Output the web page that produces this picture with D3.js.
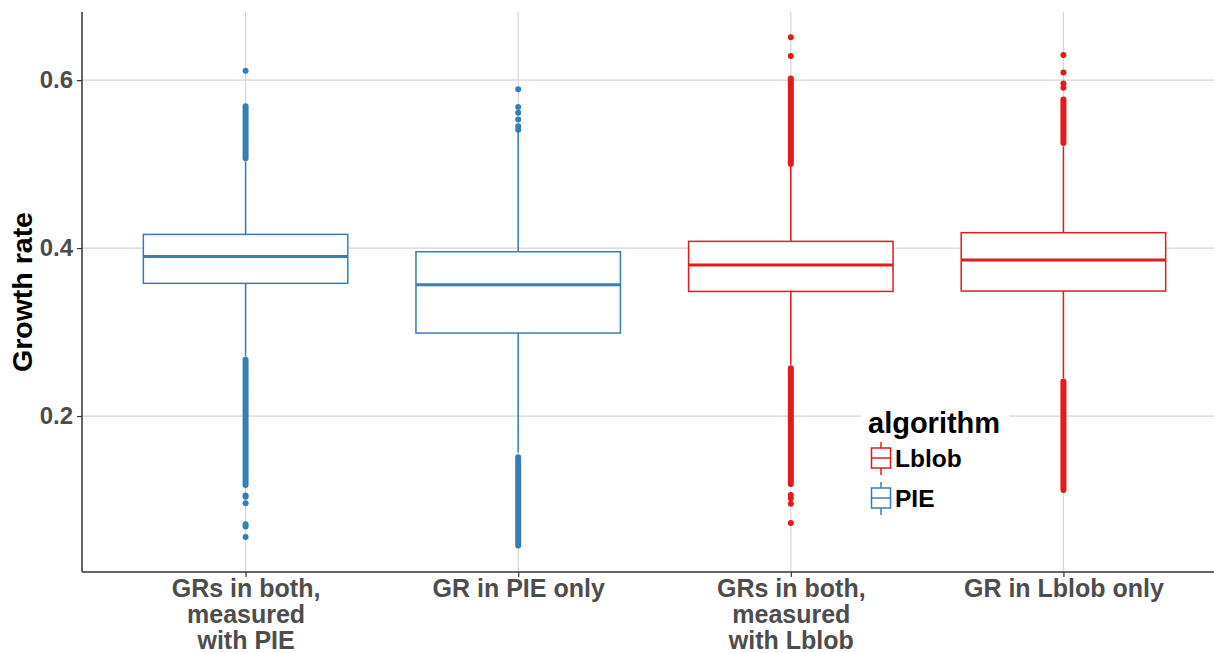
<!DOCTYPE html>
<html>
<head>
<meta charset="utf-8">
<script src="https://cdn.jsdelivr.net/npm/d3@7"></script>
<style>
  body { margin: 0; background: #fff; }
  svg { display: block; font-family: "Liberation Sans", Arial, sans-serif; }
</style>
</head>
<body>
<svg width="1214" height="653"></svg>
<script>
// categories on the x axis (lines of each label)
const categories = ["both_PIE", "PIE_only", "both_Lblob", "Lblob_only"];
const categoryLabels = [
  ["GRs in both,", "measured", "with PIE"],
  ["GR in PIE only"],
  ["GRs in both,", "measured", "with Lblob"],
  ["GR in Lblob only"]
];
const algorithm = ["PIE", "PIE", "Lblob", "Lblob"];

// box stats
const q1 = [0.358, 0.2988, 0.3484, 0.3488];
const median = [0.390, 0.3563, 0.3798, 0.3857];
const q3 = [0.4163, 0.3956, 0.408, 0.4183];
const whiskerLo = [0.271, 0.157, 0.261, 0.245];
const whiskerHi = [0.503, 0.540, 0.497, 0.521];

// dense outlier runs (too many dots to read one by one): [category, from, to]
const outlierRuns = [
  [0, 0.507, 0.569], [0, 0.118, 0.267],
  [1, 0.046, 0.151],
  [2, 0.500, 0.602], [2, 0.119, 0.257],
  [3, 0.525, 0.577], [3, 0.112, 0.241]
];
// single outlier points: [category, value]
const outlierPoints = [
  [0, 0.611], [0, 0.1054], [0, 0.1038], [0, 0.0963], [0, 0.0713], [0, 0.0685], [0, 0.0559],
  [1, 0.541], [1, 0.545], [1, 0.553], [1, 0.561], [1, 0.568], [1, 0.589],
  [2, 0.6286], [2, 0.651], [2, 0.106], [2, 0.102], [2, 0.0955], [2, 0.0725],
  [3, 0.591], [3, 0.596], [3, 0.609], [3, 0.630]
];

const yTicks = [0.2, 0.4, 0.6];
const legendKeys = ["Lblob", "PIE"];
const colors = { PIE: "#377eb8", Lblob: "#e41a1c" };

const svg = d3.select("svg");
const plotLeft = 82, plotTop = 12, plotBottom = 572, plotRight = 1227;

const x = d3.scalePoint().domain(categories).range([plotLeft, plotRight]).padding(0.6);
const y = d3.scaleLinear().domain([0.0143, 0.6811]).range([plotBottom, plotTop]);
const boxW = x.step() * 0.75;

// gridlines
const grid = svg.append("g");
grid.selectAll(".gy").data(yTicks).enter().append("line")
  .attr("x1", plotLeft).attr("x2", 1214)
  .attr("y1", d => y(d)).attr("y2", d => y(d))
  .attr("stroke", "#d6d6d6").attr("stroke-width", 1.2);
grid.selectAll(".gx").data(categories).enter().append("line")
  .attr("x1", d => x(d)).attr("x2", d => x(d))
  .attr("y1", plotTop).attr("y2", plotBottom)
  .attr("stroke", "#d6d6d6").attr("stroke-width", 1.2);

// boxes
const boxes = svg.append("g").selectAll("g").data(categories).enter().append("g");
boxes.each(function(c, i) {
  const g = d3.select(this);
  const col = colors[algorithm[i]];
  const cx = x(c);
  g.append("line").attr("x1", cx).attr("x2", cx)
    .attr("y1", y(q3[i])).attr("y2", y(whiskerHi[i]))
    .attr("stroke", col).attr("stroke-width", 1.5);
  g.append("line").attr("x1", cx).attr("x2", cx)
    .attr("y1", y(q1[i])).attr("y2", y(whiskerLo[i]))
    .attr("stroke", col).attr("stroke-width", 1.5);
  g.append("rect")
    .attr("x", cx - boxW / 2).attr("width", boxW)
    .attr("y", y(q3[i])).attr("height", y(q1[i]) - y(q3[i]))
    .attr("fill", "#fff").attr("stroke", col).attr("stroke-width", 1.5);
  g.append("line")
    .attr("x1", cx - boxW / 2).attr("x2", cx + boxW / 2)
    .attr("y1", y(median[i])).attr("y2", y(median[i]))
    .attr("stroke", col).attr("stroke-width", 3);
});

// outliers
svg.append("g").selectAll("line").data(outlierRuns).enter().append("line")
  .attr("x1", d => x(categories[d[0]])).attr("x2", d => x(categories[d[0]]))
  .attr("y1", d => y(d[1])).attr("y2", d => y(d[2]))
  .attr("stroke", d => colors[algorithm[d[0]]])
  .attr("stroke-width", 6).attr("stroke-linecap", "round");
svg.append("g").selectAll("circle").data(outlierPoints).enter().append("circle")
  .attr("cx", d => x(categories[d[0]])).attr("cy", d => y(d[1]))
  .attr("r", 3).attr("fill", d => colors[algorithm[d[0]]]);

// axes
const yAxis = svg.append("g").attr("transform", `translate(${plotLeft},0)`)
  .call(d3.axisLeft(y).tickValues(yTicks).tickSize(5).tickPadding(4).tickFormat(d3.format(".1f")));
const xAxis = svg.append("g").attr("transform", `translate(0,${plotBottom})`)
  .call(d3.axisBottom(x).tickSize(5).tickFormat(""));
[yAxis, xAxis].forEach(a => {
  a.select(".domain").attr("stroke", "#333").attr("stroke-width", 1.5);
  a.selectAll(".tick line").attr("stroke", "#333").attr("stroke-width", 1.2);
});
yAxis.select(".domain").attr("d", `M0,${plotTop}V${plotBottom}`);
xAxis.select(".domain").attr("d", `M${plotLeft},0H1214`);
yAxis.selectAll(".tick text")
  .attr("font-size", 24).attr("font-weight", "bold").attr("fill", "#4d4d4d")
  .attr("font-family", "Liberation Sans, Arial, sans-serif");

// x labels, multi-line
xAxis.selectAll(".tick").each(function(c, i) {
  const t = d3.select(this).append("text")
    .attr("text-anchor", "middle").attr("fill", "#4d4d4d")
    .attr("font-size", 25).attr("font-weight", "bold")
    .attr("font-family", "Liberation Sans, Arial, sans-serif");
  categoryLabels[i].forEach((line, k) => {
    t.append("tspan").attr("x", 0).attr("y", 25 + k * 26).text(line);
  });
});

// y title
svg.append("text")
  .attr("transform", `translate(32,${(plotTop + plotBottom) / 2}) rotate(-90)`)
  .attr("text-anchor", "middle").attr("font-size", 28.5).attr("font-weight", "bold")
  .attr("fill", "#000").text("Growth rate");

// legend
const lg = svg.append("g");
lg.append("rect").attr("x", 861).attr("y", 404).attr("width", 148).attr("height", 122).attr("fill", "#fff");
lg.append("text").attr("x", 868).attr("y", 433)
  .attr("font-size", 29).attr("font-weight", "bold").attr("fill", "#000").text("algorithm");
const key = lg.selectAll(".key").data(legendKeys).enter().append("g")
  .attr("transform", (d, i) => `translate(881,${458 + i * 40})`);
key.append("line").attr("y1", -16).attr("y2", 17).attr("stroke", d => colors[d]).attr("stroke-width", 1.5);
key.append("rect").attr("x", -9.5).attr("y", -10).attr("width", 19).attr("height", 20)
  .attr("fill", "#fff").attr("stroke", d => colors[d]).attr("stroke-width", 1.5);
key.append("line").attr("x1", -9.5).attr("x2", 9.5).attr("stroke", d => colors[d]).attr("stroke-width", 1.5);
key.append("text").attr("x", 14).attr("y", 9)
  .attr("font-size", 24.5).attr("font-weight", "bold").attr("fill", "#000").text(d => d);
</script>
</body>
</html>
